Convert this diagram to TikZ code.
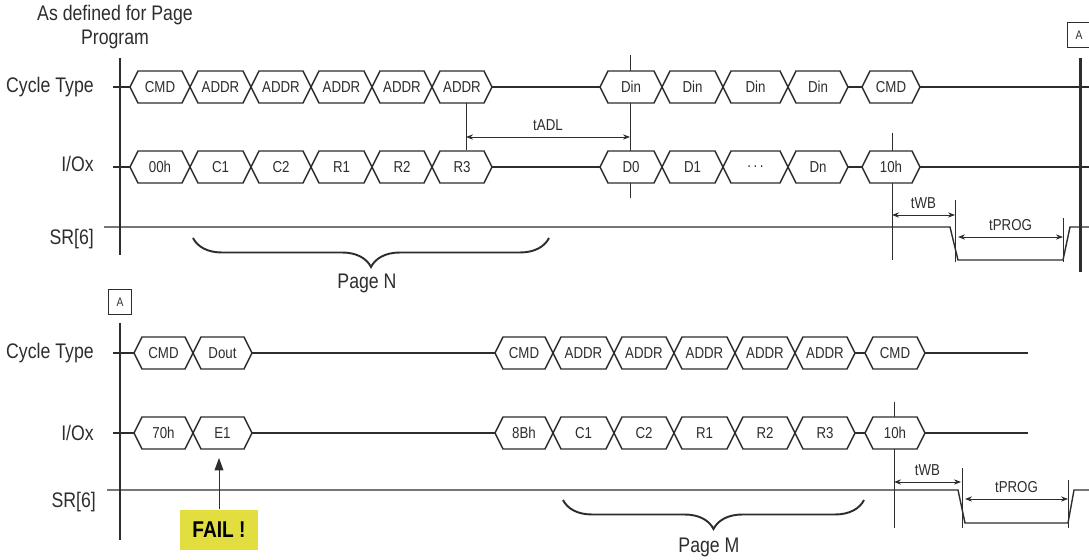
\documentclass[tikz,border=0pt]{standalone}
\usepackage{fontspec}
\setmainfont{Liberation Sans}[FakeStretch=0.84]
\usetikzlibrary{positioning, arrows.meta, decorations.pathreplacing}
\definecolor{InkColor}{RGB}{45,45,45}
\definecolor{FailColor}{RGB}{226,222,64}

\begin{document}
\begin{tikzpicture}[x=0.02cm, y=0.02cm, color=InkColor,
  bus/.style={fill=white, line width=0.8pt, line join=miter},
  word/.style={font=\fontsize{9}{10}\selectfont, inner sep=0pt},
  wire/.style={line width=0.8pt},
  rail/.style={line width=1.7pt},
  marker/.style={line width=0.45pt},
  span/.style={line width=0.5pt, {Stealth[length=4pt,width=3pt]}-{Stealth[length=4pt,width=3pt]}},
  tlabel/.style={font=\fontsize{9}{10}\selectfont},
  sig/.style={font=\fontsize{12}{14}\selectfont, anchor=east},
  abox/.style={draw, line width=0.8pt, minimum width=0.46cm, minimum height=0.5cm, inner sep=0pt, font=\fontsize{7}{8}\selectfont},
  failbox/.style={fill=FailColor, text=black, minimum width=1.58cm, minimum height=0.82cm, font=\bfseries\fontsize{13}{14}\selectfont},
  pagebrace/.style={line width=1.1pt, decorate, decoration={brace, mirror, amplitude=0.58cm}}]

\useasboundingbox (0,0) rectangle (1089,-560);

% ---------- first sequence ----------
\node[sig, anchor=center, align=center] (note) at (115,-27) {As defined for Page\\Program};
\node[abox] (atop) at (1079,-35) {A};

\node[sig] (ctlab) at (100,-87) {Cycle Type};
\node[sig] (iolab) at (100,-164) {I/Ox};
\node[sig] (srlab) at (100,-239) {SR[6]};

\draw[wire] (113,-87) -- (1089,-87);
\draw[wire] (113,-167) -- (1089,-167);
\draw[wire] (104,-227) -- (950,-227) -- (958,-260) -- (1063,-260) -- (1070,-227) -- (1089,-227);

% timing marks (behind the bus cells)
\draw[marker] (466,-103) -- (466,-150);
\draw[marker] (630,-55) -- (630,-198);
\draw[marker] (892,-133) -- (892,-260);
\draw[marker] (955,-200) -- (955,-262);
\draw[marker] (1063,-218) -- (1063,-262);

\def\ry{-87}
\foreach \xa/\xb/\txt [count=\i] in {130/190/CMD, 190/251/ADDR, 251/311/ADDR, 311/372/ADDR, 372/432/ADDR, 432/492/ADDR,
                                     600/662/Din, 662/723/Din, 723/788/Din, 788/848/Din, 862/920/CMD}{
  \draw[bus] (\xa,\ry) -- (\xa+8,\ry+16) -- (\xb-8,\ry+16) -- (\xb,\ry) -- (\xb-8,\ry-16) -- (\xa+8,\ry-16) -- cycle;
  \node[word] (ct\i) at ({(\xa+\xb)/2},\ry) {\txt};
}
\def\ry{-167}
\foreach \xa/\xb/\txt [count=\i] in {130/190/00h, 190/251/C1, 251/311/C2, 311/372/R1, 372/432/R2, 432/492/R3,
                                     600/662/D0, 662/723/D1, 723/788/{.\,.\,.}, 788/848/Dn, 862/920/10h}{
  \draw[bus] (\xa,\ry) -- (\xa+8,\ry+16) -- (\xb-8,\ry+16) -- (\xb,\ry) -- (\xb-8,\ry-16) -- (\xa+8,\ry-16) -- cycle;
  \node[word] (io\i) at ({(\xa+\xb)/2},\ry) {\txt};
}

\draw[rail] (120,-58) -- (120,-255);
\draw[rail] (1080,-58) -- (1080,-272);

\coordinate (adlA) at (466,-137);
\coordinate (adlB) at (630,-137);
\draw[span] (adlA) -- node[tlabel, above] {tADL} (adlB);

\coordinate (wbA) at (892,-215);
\coordinate (wbB) at (955,-215);
\draw[span] (wbA) -- node[tlabel, above] {tWB} (wbB);

\coordinate (progA) at (958,-237);
\coordinate (progB) at (1063,-237);
\draw[span] (progA) -- node[tlabel, above] {tPROG} (progB);

\draw[pagebrace] (193,-238) -- (549,-238);
\node[sig, anchor=center] (pagen) at (367,-283) {Page N};

% ---------- second sequence ----------
\node[abox] (abot) at (120,-302) {A};

\node[sig] (ctlabb) at (100,-353) {Cycle Type};
\node[sig] (iolabb) at (100,-433) {I/Ox};
\node[sig] (srlabb) at (102,-502) {SR[6]};

\draw[wire] (113,-353) -- (1028,-353);
\draw[wire] (113,-433) -- (1028,-433);
\draw[wire] (107,-490) -- (958,-490) -- (965,-523) -- (1068,-523) -- (1074,-490) -- (1089,-490);

% timing marks (behind the bus cells)
\draw[marker] (894,-402) -- (894,-528);
\draw[marker] (962,-468) -- (962,-528);
\draw[marker] (1068,-480) -- (1068,-528);

\def\ry{-353}
\foreach \xa/\xb/\txt [count=\i] in {134/193/CMD, 193/252/Dout,
                                     495/553/CMD, 553/614/ADDR, 614/674/ADDR, 674/735/ADDR, 735/795/ADDR, 795/855/ADDR, 865/925/CMD}{
  \draw[bus] (\xa,\ry) -- (\xa+8,\ry+16) -- (\xb-8,\ry+16) -- (\xb,\ry) -- (\xb-8,\ry-16) -- (\xa+8,\ry-16) -- cycle;
  \node[word] (cb\i) at ({(\xa+\xb)/2},\ry) {\txt};
}
\def\ry{-433}
\foreach \xa/\xb/\txt [count=\i] in {134/193/70h, 193/252/E1,
                                     495/553/8Bh, 553/614/C1, 614/674/C2, 674/735/R1, 735/795/R2, 795/855/R3, 865/925/10h}{
  \draw[bus] (\xa,\ry) -- (\xa+8,\ry+16) -- (\xb-8,\ry+16) -- (\xb,\ry) -- (\xb-8,\ry-16) -- (\xa+8,\ry-16) -- cycle;
  \node[word] (iob\i) at ({(\xa+\xb)/2},\ry) {\txt};
}

\draw[rail] (120,-323) -- (120,-540);

% status read result
\node[failbox] (fail) at (219,-530) {FAIL !};
\coordinate (failtip) at (219,-458);
\draw[line width=0.5pt, -{Triangle[length=7pt,width=5pt]}] (fail) -- (failtip);

\coordinate (wbC) at (894,-482);
\coordinate (wbD) at (961,-482);
\draw[span] (wbC) -- node[tlabel, above] {tWB} (wbD);

\coordinate (progC) at (965,-499);
\coordinate (progD) at (1068,-499);
\draw[span] (progC) -- node[tlabel, above] {tPROG} (progD);

\draw[pagebrace] (563,-500) -- (864,-500);
\node[sig, anchor=center] (pagem) at (709,-547) {Page M};

\end{tikzpicture}
\end{document}
